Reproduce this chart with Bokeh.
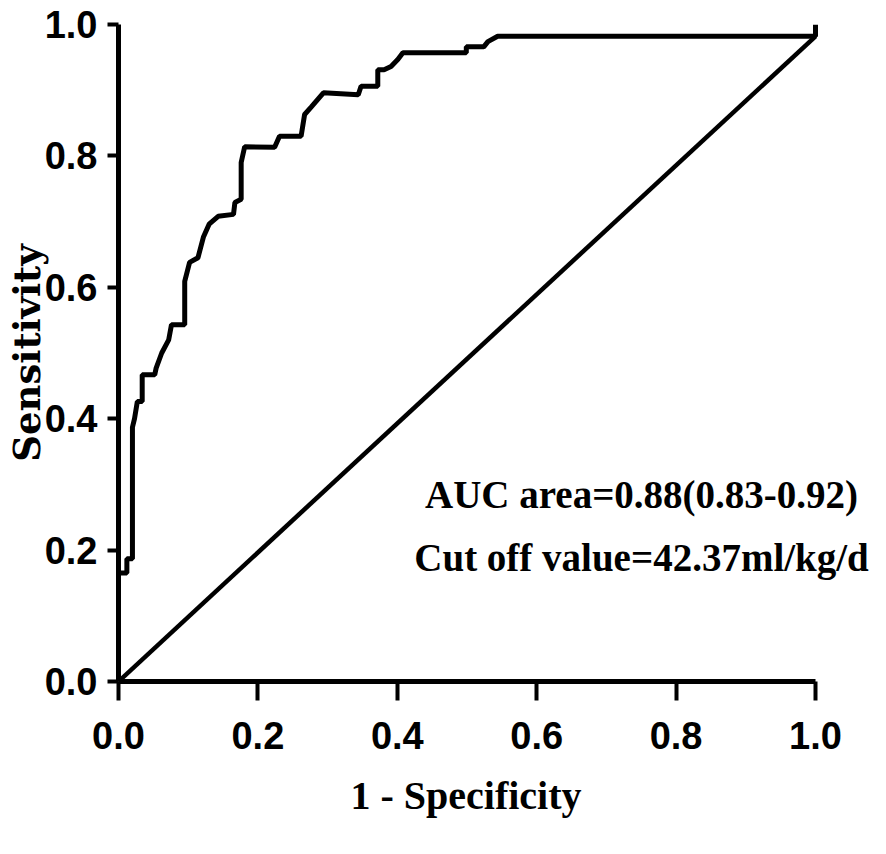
from bokeh.plotting import figure
from bokeh.models import Range1d, Label, FixedTicker, Title
from bokeh.embed import file_html
from bokeh.resources import INLINE

# ROC curve (1 - specificity, sensitivity)
fpr = [0.0, 0.0, 0.012, 0.012, 0.02, 0.02, 0.023, 0.027, 0.034, 0.034, 0.052,
       0.054, 0.062, 0.072, 0.076, 0.095, 0.095, 0.102, 0.114, 0.122, 0.13,
       0.143, 0.165, 0.167, 0.176, 0.176, 0.181, 0.224, 0.231, 0.262, 0.267,
       0.277, 0.294, 0.344, 0.348, 0.372, 0.372, 0.381, 0.391, 0.401, 0.408,
       0.499, 0.499, 0.524, 0.53, 0.544, 1.0, 1.0]
tpr = [0.0, 0.165, 0.165, 0.187, 0.187, 0.387, 0.40, 0.426, 0.426, 0.467, 0.467,
       0.477, 0.50, 0.52, 0.543, 0.543, 0.609, 0.638, 0.645, 0.677, 0.696,
       0.708, 0.711, 0.729, 0.734, 0.79, 0.814, 0.813, 0.83, 0.83, 0.863,
       0.875, 0.896, 0.893, 0.906, 0.906, 0.931, 0.931, 0.936, 0.947, 0.957,
       0.957, 0.966, 0.966, 0.974, 0.982, 0.982, 1.0]

# reference (chance) line
ref_x = [0.0, 1.0]
ref_y = [0.0, 0.982]

ticks = [0.0, 0.2, 0.4, 0.6, 0.8, 1.0]
tick_labels = ["0.0", "0.2", "0.4", "0.6", "0.8", "1.0"]

x_title = "1 - Specificity"
y_title = "Sensitivity"
auc_text = "AUC area=0.88(0.83-0.92)"
cutoff_text = "Cut off value=42.37ml/kg/d"

TICK_FONT = "Liberation Sans"
SERIF = "Liberation Serif"

# frame spans right to the figure edge so the annotation is not clipped;
# the x axis line is limited to [0, 1] with bounds
p = figure(width=870, height=838,
           x_range=Range1d(0, 752 / 697), y_range=Range1d(0, 1.0),
           output_backend="svg", toolbar_location=None,
           min_border_left=118, min_border_right=0,
           min_border_top=24, min_border_bottom=157)
p.outline_line_color = None
p.grid.visible = False
p.background_fill_color = "white"
p.border_fill_color = "white"

p.line(fpr, tpr, line_color="black", line_width=5)
p.line(ref_x, ref_y, line_color="black", line_width=4.5)

for ax in (p.xaxis[0], p.yaxis[0]):
    ax.bounds = (0, 1)
    ax.ticker = FixedTicker(ticks=ticks, minor_ticks=[])
    ax.major_label_overrides = {t: l for t, l in zip(ticks, tick_labels)}
    ax.axis_line_width = 5
    ax.axis_line_color = "black"
    ax.major_tick_line_width = 4
    ax.major_tick_line_color = "black"
    ax.major_tick_in = 0
    ax.minor_tick_line_color = None
    ax.major_label_text_font = TICK_FONT
    ax.major_label_text_font_style = "bold"
    ax.major_label_text_font_size = "38px"
    ax.major_label_text_color = "black"
    ax.axis_label_text_font_style = "bold"
    ax.axis_label_text_color = "black"

xa = p.xaxis[0]
xa.major_tick_out = 19
xa.major_label_standoff = 21

# x title centred under the [0, 1] axis (not the wider frame)
p.add_layout(Title(text=x_title, align="left", offset=232, standoff=39,
                   text_font=SERIF, text_font_style="bold",
                   text_font_size="40px", text_color="black"), "below")

ya = p.yaxis[0]
ya.major_tick_out = 11
ya.major_label_standoff = 10
ya.axis_label = y_title
ya.axis_label_text_font = "DejaVu Serif"
ya.axis_label_text_font_size = "37px"
ya.axis_label_standoff = -7

p.add_layout(Label(x=0.7504, y=0.2846, text=auc_text, text_font=SERIF,
                   text_font_style="bold", text_font_size="39px",
                   text_align="center", text_baseline="alphabetic",
                   text_color="black"))
p.add_layout(Label(x=0.7504, y=0.1887, text=cutoff_text, text_font=SERIF,
                   text_font_style="bold", text_font_size="39px",
                   text_align="center", text_baseline="alphabetic",
                   text_color="black"))

open("out.html", "w").write(file_html(p, INLINE))
